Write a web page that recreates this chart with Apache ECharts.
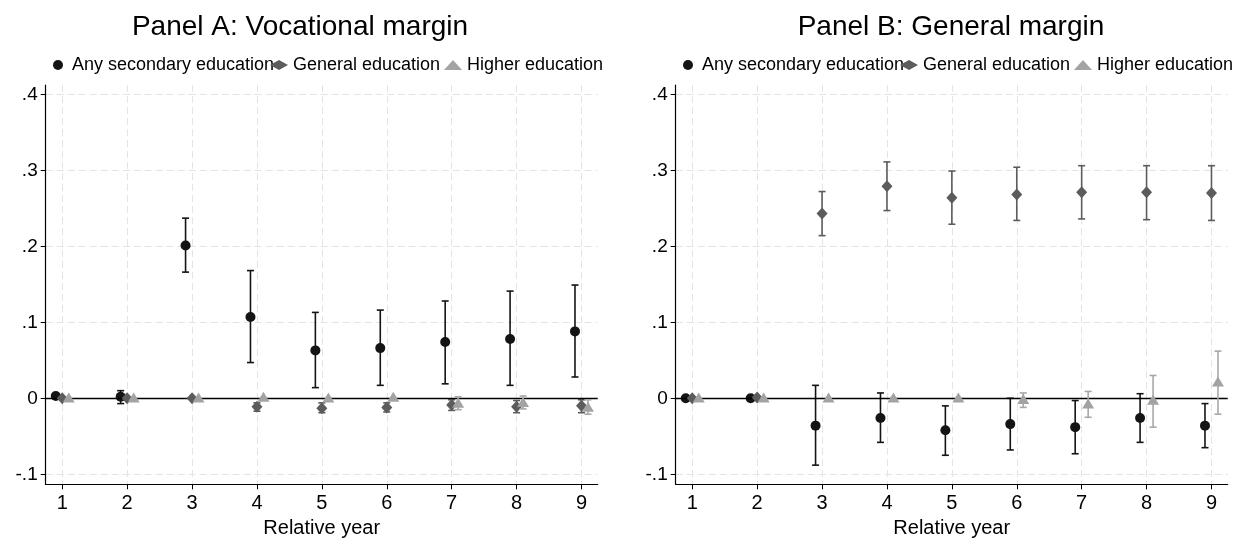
<!DOCTYPE html>
<html>
<head>
<meta charset="utf-8">
<script src="https://cdn.jsdelivr.net/npm/echarts@6/dist/echarts.min.js"></script>
<style>html,body{margin:0;padding:0;background:#fff;}#c{width:1243px;height:544px;}</style>
</head>
<body>
<div id="c"></div>
<script>
const years = [1, 2, 3, 4, 5, 6, 7, 8, 9];
const yTicks = [-0.1, 0, 0.1, 0.2, 0.3, 0.4];
const seriesNames = ['Any secondary education', 'General education', 'Higher education'];
const panelTitles = ['Panel A: Vocational margin', 'Panel B: General margin'];
const xTitle = 'Relative year';

// Panel A: Vocational margin
const aAnyEst  = [0.003, 0.002, 0.201, 0.107, 0.063, 0.066, 0.074, 0.078, 0.088];
const aAnyLo   = [null, -0.007, 0.166, 0.047, 0.014, 0.017, 0.019, 0.017, 0.028];
const aAnyHi   = [null, 0.010, 0.237, 0.168, 0.113, 0.116, 0.128, 0.141, 0.149];
const aGenEst  = [0.000, 0.000, 0.000, -0.011, -0.013, -0.012, -0.009, -0.011, -0.010];
const aGenLo   = [null, null, null, -0.017, -0.019, -0.018, -0.016, -0.019, -0.019];
const aGenHi   = [null, null, null, -0.006, -0.006, -0.006, -0.002, -0.003, -0.002];
const aHighEst = [0.001, 0.001, 0.001, 0.002, 0.001, 0.002, -0.006, -0.005, -0.011];
const aHighLo  = [null, null, null, null, null, null, -0.015, -0.014, -0.021];
const aHighHi  = [null, null, null, null, null, null, 0.002, 0.003, -0.002];

// Panel B: General margin
const bAnyEst  = [0.000, 0.000, -0.036, -0.026, -0.042, -0.034, -0.038, -0.026, -0.036];
const bAnyLo   = [null, null, -0.088, -0.058, -0.075, -0.068, -0.073, -0.058, -0.065];
const bAnyHi   = [null, null, 0.017, 0.007, -0.010, 0.000, -0.003, 0.006, -0.007];
const bGenEst  = [0.000, 0.001, 0.243, 0.279, 0.264, 0.268, 0.271, 0.271, 0.270];
const bGenLo   = [null, null, 0.214, 0.247, 0.229, 0.234, 0.236, 0.235, 0.234];
const bGenHi   = [null, null, 0.272, 0.311, 0.299, 0.304, 0.306, 0.306, 0.306];
const bHighEst = [0.001, 0.001, 0.001, 0.001, 0.001, -0.001, -0.007, -0.002, 0.022];
const bHighLo  = [null, null, null, null, null, -0.012, -0.025, -0.038, -0.021];
const bHighHi  = [null, null, null, null, null, 0.007, 0.009, 0.030, 0.062];

const FONT = 'Liberation Sans, Arial, Helvetica, sans-serif';
const offsets = [-0.1, 0, 0.1];
const markerColors = ['#141414', '#5c5c5c', '#a3a3a3'];
const ciColors = ['#141414', '#5c5c5c', '#a8a8a8'];
const symbols = ['circle', 'diamond', 'triangle'];
const symbolSizes = [10, [11, 12], [12, 10]];

const panels = [
  {est: [aAnyEst, aGenEst, aHighEst], lo: [aAnyLo, aGenLo, aHighLo], hi: [aAnyHi, aGenHi, aHighHi]},
  {est: [bAnyEst, bGenEst, bHighEst], lo: [bAnyLo, bGenLo, bHighLo], hi: [bAnyHi, bGenHi, bHighHi]}
];

const gridLeft = [45.7, 675.7];
const titleCenters = [300, 951];
const gridW = 552, gridTop = 85, gridH = 399.3;

function fmtY(v) {
  if (Math.abs(v) < 1e-9) return '0';
  return v.toFixed(1).replace('0.', '.');
}

const grids = [], xAxes = [], yAxes = [], series = [], titles = [], legends = [];
const legendTextStarts = [76, 293, 467];
const LW = 18;

panels.forEach((p, pi) => {
  grids.push({left: gridLeft[pi], top: gridTop, width: gridW, height: gridH, containLabel: false});
  xAxes.push({
    type: 'value', gridIndex: pi, min: 0.745, max: 9.25,
    name: xTitle, nameLocation: 'middle', nameGap: 34,
    nameTextStyle: {fontFamily: FONT, fontSize: 20, color: '#000'},
    axisLine: {show: true, onZero: false, lineStyle: {color: '#000', width: 1.2}},
    axisTick: {show: true, length: 5, customValues: years, lineStyle: {color: '#000', width: 1}},
    axisLabel: {show: true, customValues: years, margin: 9, fontFamily: FONT, fontSize: 20, color: '#000'},
    splitLine: {show: true, lineStyle: {color: '#e4e4e4', width: 1, type: [7, 4]}}
  });
  yAxes.push({
    type: 'value', gridIndex: pi, min: -0.1132, max: 0.4122,
    axisLine: {show: true, onZero: false, lineStyle: {color: '#000', width: 1.2}},
    axisTick: {show: true, length: 5, customValues: yTicks, lineStyle: {color: '#000', width: 1}},
    axisLabel: {show: true, customValues: yTicks, margin: 8, fontFamily: FONT, fontSize: 19, color: '#000', formatter: fmtY},
    splitLine: {show: true, lineStyle: {color: '#e4e4e4', width: 1, type: [7, 4]}}
  });
  titles.push({
    text: panelTitles[pi], left: titleCenters[pi], top: 13, textAlign: 'center', padding: 0,
    textStyle: {fontFamily: FONT, fontSize: 28, fontWeight: 'normal', color: '#000'}
  });
  // zero line
  series.push({
    type: 'line', xAxisIndex: pi, yAxisIndex: pi, data: [], z: 1, silent: true,
    markLine: {silent: true, symbol: ['none', 'none'], label: {show: false},
      lineStyle: {color: '#000', width: 1.3, type: 'solid'}, emphasis: {disabled: true},
      data: [{yAxis: 0}]}
  });
  for (let s = 0; s < 3; s++) {
    const off = offsets[s];
    const ci = [];
    years.forEach((yr, i) => {
      if (p.lo[s][i] != null) ci.push([yr + off, p.lo[s][i], p.hi[s][i]]);
    });
    const col = ciColors[s];
    series.push({
      type: 'custom', xAxisIndex: pi, yAxisIndex: pi, z: 2 + s * 2, silent: true,
      encode: {x: 0, y: [1, 2]},
      data: ci,
      renderItem: function (params, api) {
        const x = api.value(0), lo = api.value(1), hi = api.value(2);
        const a = api.coord([x, hi]), b = api.coord([x, lo]);
        const w = 3.5;
        const st = {stroke: col, lineWidth: 1.6};
        return {type: 'group', children: [
          {type: 'line', shape: {x1: a[0], y1: a[1], x2: b[0], y2: b[1]}, style: st},
          {type: 'line', shape: {x1: a[0] - w, y1: a[1], x2: a[0] + w, y2: a[1]}, style: st},
          {type: 'line', shape: {x1: b[0] - w, y1: b[1], x2: b[0] + w, y2: b[1]}, style: st}
        ]};
      }
    });
    series.push({
      name: seriesNames[s], type: 'scatter', xAxisIndex: pi, yAxisIndex: pi, z: 3 + s * 2,
      symbol: symbols[s], symbolSize: symbolSizes[s],
      itemStyle: {color: markerColors[s], opacity: 1},
      data: years.map((yr, i) => [yr + off, p.est[s][i]])
    });
    legends.push({
      left: legendTextStarts[s] - LW - 5 + (pi === 1 ? 630 : 0), top: 56, padding: 0,
      itemWidth: LW, itemHeight: 10, itemGap: 0, selectedMode: false,
      textStyle: {fontFamily: FONT, fontSize: 18, color: '#000', lineHeight: 18},
      data: [{name: seriesNames[s], icon: symbols[s], itemStyle: {color: markerColors[s]}}]
    });
  }
});

const chart = echarts.init(document.getElementById('c'), null, {renderer: 'canvas'});
chart.setOption({
  backgroundColor: '#fff',
  animation: false,
  title: titles,
  legend: legends,
  grid: grids,
  xAxis: xAxes,
  yAxis: yAxes,
  series: series
});
</script>
</body>
</html>
